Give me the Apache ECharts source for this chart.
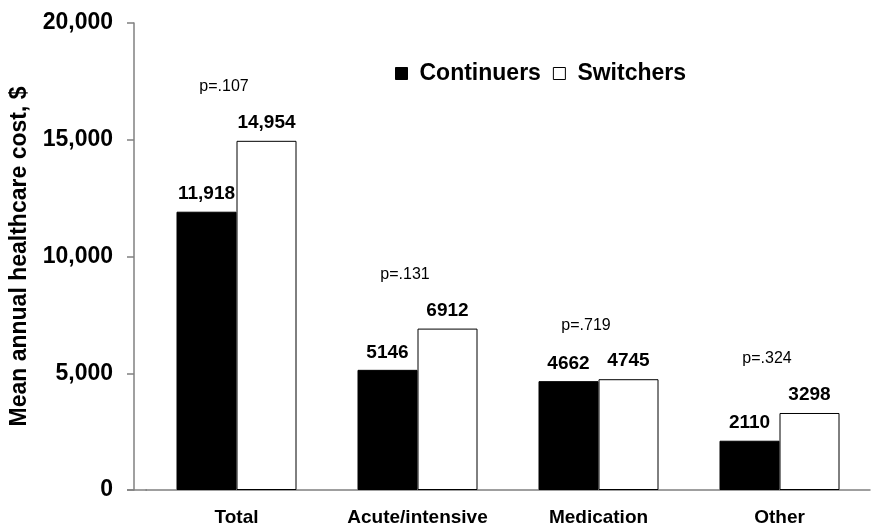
<!DOCTYPE html>
<html>
<head>
<meta charset="utf-8">
<script src="https://cdn.jsdelivr.net/npm/echarts@6/dist/echarts.min.js"></script>
<style>
html,body{margin:0;padding:0;background:#fff;}
#chart{width:871px;height:527px;}
</style>
</head>
<body>
<div id="chart"></div>
<script>
const categories = ['Total', 'Acute/intensive', 'Medication', 'Other'];
const continuers = [11918, 5146, 4662, 2110];
const switchers = [14954, 6912, 4745, 3298];
const continuerLabels = ['11,918', '5146', '4662', '2110'];
const switcherLabels = ['14,954', '6912', '4745', '3298'];
const pValues = ['p=.107', 'p=.131', 'p=.719', 'p=.324'];
const yTicks = [0, 5000, 10000, 15000, 20000];

const FONT = '"Liberation Sans", Arial, sans-serif';
const chart = echarts.init(document.getElementById('chart'));
chart.setOption({
  animation: false,
  backgroundColor: '#fff',
  textStyle: { fontFamily: FONT },
  grid: { left: 146, right: 1, top: 23, bottom: 35, containLabel: false },
  legend: {
    left: 395, top: 62, padding: 0,
    itemWidth: 12, itemHeight: 12, itemGap: 12,
    icon: 'rect',
    textStyle: { fontFamily: FONT, fontSize: 23, fontWeight: 'bold', color: '#000', padding: [0, 0, 8, 7] },
    data: [
      { name: 'Continuers', itemStyle: { color: '#000', borderColor: '#000', borderWidth: 1 } },
      { name: 'Switchers', itemStyle: { color: '#fff', borderColor: '#000', borderWidth: 1 } }
    ]
  },
  xAxis: {
    type: 'category',
    data: categories,
    boundaryGap: true,
    axisLine: { lineStyle: { color: '#808080', width: 1.5 } },
    axisTick: { show: false },
    axisLabel: { interval: 0, margin: 18, fontFamily: FONT, fontSize: 19, fontWeight: 'bold', color: '#000' }
  },
  yAxis: {
    type: 'value',
    min: yTicks[0], max: yTicks[yTicks.length - 1], interval: 5000,
    offset: 12,
    name: 'Mean annual healthcare cost, $',
    nameLocation: 'middle',
    nameGap: 103,
    nameTextStyle: { fontFamily: FONT, fontSize: 23, fontWeight: 'bold', color: '#000' },
    axisLine: { show: true, lineStyle: { color: '#808080', width: 1.5 } },
    axisTick: { show: true, length: 7, lineStyle: { color: '#808080', width: 1.5 } },
    splitLine: { show: false },
    axisLabel: {
      margin: 21, fontFamily: FONT, fontSize: 23, fontWeight: 'bold', color: '#000',
      formatter: v => v.toLocaleString('en-US')
    }
  },
  series: [
    {
      name: 'Continuers', type: 'bar', data: continuers,
      barWidth: 60, barGap: '0%',
      itemStyle: { color: '#000', borderColor: '#000', borderWidth: 1 },
      label: {
        show: true, position: 'top', distance: 8,
        fontFamily: FONT, fontSize: 19, fontWeight: 'bold', color: '#000',
        formatter: p => continuerLabels[p.dataIndex]
      }
    },
    {
      name: 'Switchers', type: 'bar', data: switchers,
      barWidth: 60,
      itemStyle: { color: '#fff', borderColor: '#000', borderWidth: 1 },
      label: {
        show: true, position: 'top', distance: 7,
        fontFamily: FONT, color: '#000',
        formatter: p => '{p|' + pValues[p.dataIndex] + '}\n{v|' + switcherLabels[p.dataIndex] + '}',
        rich: {
          p: { fontFamily: FONT, fontSize: 16, color: '#000', lineHeight: 50, padding: [0, 85, 0, 0] },
          v: { fontFamily: FONT, fontSize: 19, fontWeight: 'bold', color: '#000', lineHeight: 22 }
        }
      }
    }
  ]
});
// extend the x-axis baseline leftwards to meet the offset y-axis
const yZero = chart.convertToPixel({ yAxisIndex: 0 }, 0);
chart.setOption({
  graphic: [
    { type: 'line', shape: { x1: 127, y1: yZero, x2: 147, y2: yZero }, style: { stroke: '#808080', lineWidth: 1.5 }, z: 10 }
  ]
});
</script>
</body>
</html>
